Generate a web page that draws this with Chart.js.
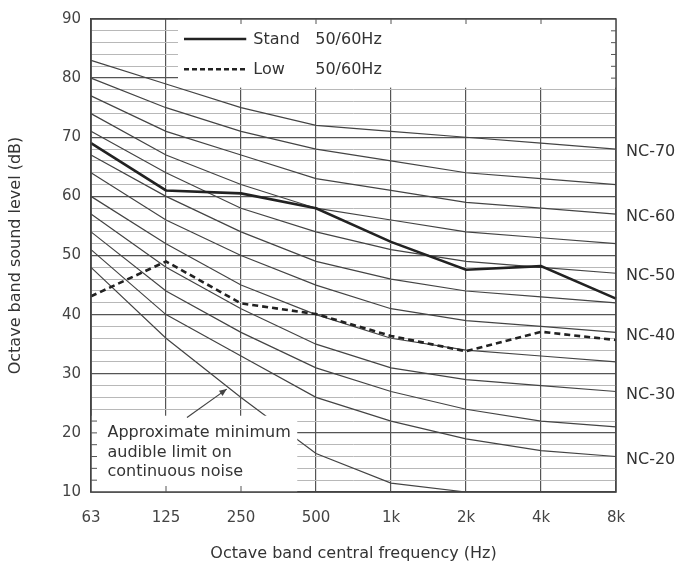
<!DOCTYPE html>
<html>
<head>
<meta charset="utf-8">
<script src="https://cdn.jsdelivr.net/npm/chart.js@4/dist/chart.umd.min.js"></script>
<style>
  html, body { margin: 0; padding: 0; background: #fff; }
  #wrap { width: 680px; height: 567px; }
</style>
</head>
<body>
<div id="wrap"><canvas id="chart-nc"></canvas></div>
<script>
const bands = ['63', '125', '250', '500', '1k', '2k', '4k', '8k']

const stand = [69, 61, 60.5, 58, 52.3, 47.6, 48.2, 42.7]
const low = [43.1, 49, 41.9, 40.1, 36.4, 33.8, 37.1, 35.7]

const nc70 = [83, 79, 75, 72, 71, 70, 69, 68]
const nc65 = [80, 75, 71, 68, 66, 64, 63, 62]
const nc60 = [77, 71, 67, 63, 61, 59, 58, 57]
const nc55 = [74, 67, 62, 58, 56, 54, 53, 52]
const nc50 = [71, 64, 58, 54, 51, 49, 48, 47]
const nc45 = [67, 60, 54, 49, 46, 44, 43, 42]
const nc40 = [64, 56, 50, 45, 41, 39, 38, 37]
const nc35 = [60, 52, 45, 40, 36, 34, 33, 32]
const nc30 = [57, 48, 41, 35, 31, 29, 28, 27]
const nc25 = [54, 44, 37, 31, 27, 24, 22, 21]
const nc20 = [51, 40, 33, 26, 22, 19, 17, 16]
const audibleLimit = [48, 36, 26, 16.5, 11.5, 10, null, null]

const ncCurves = [nc70, nc65, nc60, nc55, nc50, nc45, nc40, nc35, nc30, nc25, nc20]
const ncLabels = ['NC-70', 'NC-60', 'NC-50', 'NC-40', 'NC-30', 'NC-20']
const ncLabelCurves = [nc70, nc60, nc50, nc40, nc30, nc20]

const FONT = '"DejaVu Sans", sans-serif'
const INK = '#333'

// overlay boxes, in axis units (band index, dB)
const legendBox = { x0: 1.16, y0: 78.4 }
const noteBox = { x1: 2.75, y1: 22.9 }

const overlay = {
  id: 'overlay',
  beforeDatasetsDraw(chart) {
    const { ctx, chartArea: a, scales: { x, y } } = chart
    const lx = x.getPixelForValue(legendBox.x0)
    const ly = y.getPixelForValue(legendBox.y0)
    ctx.save()
    ctx.fillStyle = '#fff'
    ctx.fillRect(lx, a.top, a.right - lx, ly - a.top)
    ctx.restore()
  },
  afterDatasetsDraw(chart) {
    const { ctx, chartArea: a, scales: { x, y } } = chart
    ctx.save()

    // note box over the lower left corner
    const nx = x.getPixelForValue(noteBox.x1)
    const ny = y.getPixelForValue(noteBox.y1)
    ctx.fillStyle = '#fff'
    ctx.fillRect(a.left, ny, nx - a.left, a.bottom - ny)

    // frame
    ctx.strokeStyle = '#444'
    ctx.lineWidth = 1.5
    ctx.strokeRect(a.left, a.top, a.right - a.left, a.bottom - a.top)

    // inward ticks where the boxes hide the grid
    ctx.lineWidth = 1
    ctx.strokeStyle = '#555'
    ctx.beginPath()
    for (let v = 12; v < noteBox.y1; v += 2) {
      const py = y.getPixelForValue(v)
      ctx.moveTo(a.left, py); ctx.lineTo(a.left + 6, py)
    }
    for (let i = 1; i <= 2; i++) {
      const px = x.getPixelForValue(i)
      ctx.moveTo(px, a.bottom); ctx.lineTo(px, a.bottom - 6)
    }
    for (let v = 80; v < 90; v += 2) {
      const py = y.getPixelForValue(v)
      ctx.moveTo(a.right, py); ctx.lineTo(a.right - 5, py)
    }
    for (let i = 2; i <= 6; i++) {
      const px = x.getPixelForValue(i)
      ctx.moveTo(px, a.top); ctx.lineTo(px, a.top + 5)
    }
    ctx.stroke()

    // note text and arrow
    ctx.fillStyle = INK
    ctx.font = '16px ' + FONT
    ctx.textBaseline = 'middle'
    ctx.textAlign = 'left'
    const tx = x.getPixelForValue(0.22)
    const ty = y.getPixelForValue(20)
    ;['Approximate minimum', 'audible limit on', 'continuous noise'].forEach((t, i) => {
      ctx.fillText(t, tx, ty + i * 19.5)
    })
    const ax0 = x.getPixelForValue(1.28), ay0 = y.getPixelForValue(22.6)
    const ax1 = x.getPixelForValue(1.81), ay1 = y.getPixelForValue(27.4)
    ctx.strokeStyle = '#444'
    ctx.lineWidth = 1.2
    ctx.beginPath(); ctx.moveTo(ax0, ay0); ctx.lineTo(ax1, ay1); ctx.stroke()
    const ang = Math.atan2(ay1 - ay0, ax1 - ax0)
    ctx.beginPath()
    ctx.moveTo(ax1, ay1)
    ctx.lineTo(ax1 - 8 * Math.cos(ang - 0.4), ay1 - 8 * Math.sin(ang - 0.4))
    ctx.lineTo(ax1 - 8 * Math.cos(ang + 0.4), ay1 - 8 * Math.sin(ang + 0.4))
    ctx.closePath()
    ctx.fillStyle = '#444'
    ctx.fill()

    // legend
    const lx0 = x.getPixelForValue(1.24), lx1 = x.getPixelForValue(2.07)
    const rows = [
      { name: 'Stand', v: 86.6, dash: [] },
      { name: 'Low', v: 81.5, dash: [5, 3] }
    ]
    rows.forEach(r => {
      const py = y.getPixelForValue(r.v)
      ctx.strokeStyle = '#222'
      ctx.lineWidth = 2.5
      ctx.setLineDash(r.dash)
      ctx.beginPath(); ctx.moveTo(lx0, py); ctx.lineTo(lx1, py); ctx.stroke()
      ctx.setLineDash([])
      ctx.fillStyle = INK
      ctx.fillText(r.name, lx1 + 7, py + 1)
      ctx.fillText('50/60Hz', x.getPixelForValue(2.99), py + 1)
    })

    // NC curve names on the right
    ctx.font = '16px ' + FONT
    ncLabels.forEach((t, i) => {
      const c = ncLabelCurves[i]
      ctx.fillText(t, a.right + 10, y.getPixelForValue(c[c.length - 1]) + 3)
    })

    ctx.restore()
  }
}

const datasets = [
  { label: 'Stand', data: stand, borderColor: '#222', borderWidth: 2.6 },
  { label: 'Low', data: low, borderColor: '#222', borderWidth: 2.6, borderDash: [6, 4] },
  ...ncCurves.map((c, i) => ({ label: 'nc' + i, data: c, borderColor: '#444', borderWidth: 1.2 })),
  { label: 'limit', data: audibleLimit, borderColor: '#444', borderWidth: 1.2 }
].map(d => ({ ...d, pointRadius: 0, tension: 0, fill: false }))

new Chart(document.getElementById('chart-nc').getContext('2d'), {
  type: 'line',
  data: { labels: bands, datasets },
  options: {
    responsive: true,
    maintainAspectRatio: false,
    animation: false,
    layout: { padding: { top: 14, right: 64, left: 0, bottom: 0 } },
    plugins: { legend: { display: false }, tooltip: { enabled: false } },
    scales: {
      x: {
        type: 'category',
        offset: false,
        afterFit: s => { s.height = 75 },
        grid: { color: '#555', lineWidth: 1.2, drawTicks: false, offset: false },
        border: { display: true, color: '#444', width: 1.5 },
        ticks: { color: '#444', font: { family: FONT, size: 15 }, padding: 17, maxRotation: 0, autoSkip: false },
        title: {
          display: true,
          text: 'Octave band central frequency (Hz)',
          color: INK,
          font: { family: FONT, size: 16 },
          padding: { top: 0, bottom: 4 }
        }
      },
      y: {
        min: 10,
        max: 90,
        afterFit: s => { s.width = 91 },
        grid: {
          drawTicks: false,
          color: c => (c.tick.value % 10 === 0 ? '#555' : '#b8b8b8'),
          lineWidth: c => (c.tick.value % 10 === 0 ? 1.3 : 1)
        },
        border: { display: true, color: '#444', width: 1.5 },
        ticks: {
          stepSize: 2,
          autoSkip: false,
          color: '#444',
          font: { family: FONT, size: 15 },
          padding: 10,
          callback: v => (v % 10 === 0 ? v : '')
        },
        title: {
          display: true,
          text: 'Octave band sound level (dB)',
          color: INK,
          font: { family: FONT, size: 16 },
          padding: { top: 6, bottom: 0 }
        }
      }
    }
  },
  plugins: [overlay]
})
</script>
</body>
</html>
